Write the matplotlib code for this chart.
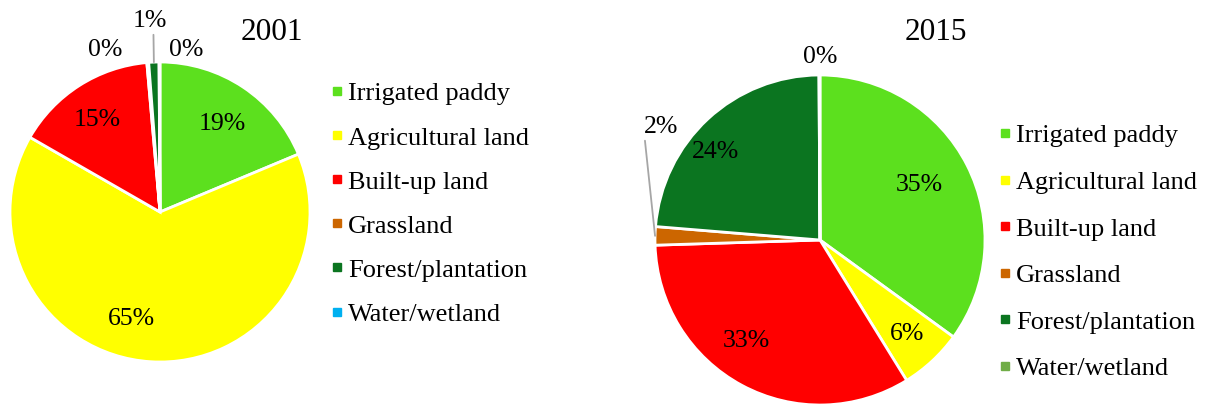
import matplotlib.pyplot as plt
from matplotlib.lines import Line2D
import numpy as np

plt.rcParams['font.family'] = ['Liberation Serif', 'DejaVu Serif']

# land use categories and shares (%)
categories = ['Irrigated paddy', 'Agricultural land', 'Built-up land',
              'Grassland', 'Forest/plantation', 'Water/wetland']
share_2001 = [18.7, 64.6, 15.3, 0.2, 1.1, 0.1]
share_2015 = [35.0, 6.2, 33.3, 1.8, 23.6, 0.1]
colors_2001 = ['#5ce01e', '#ffff00', '#ff0000', '#cc6600', '#0b7520', '#00b0f0']
colors_2015 = ['#5ce01e', '#ffff00', '#ff0000', '#cc6600', '#0b7520', '#70ad47']

W, H = 1210, 404

# label placement: (radius fraction, angle override or None, leader line?)
layout_2001 = [(0.72, 54.5, False), (0.74, -105, False), (0.74, 124.4, False),
               (1.14, 108.8, False), (1.275, 93, True), (1.094, 80.9, False)]
layout_2015 = [(0.69, 29, False), (0.78, None, False), (0.76, -126, False),
               (1.18, 144.5, True), (0.83, 140, False), (1.11, 90, False)]


def draw_pie(ax, values, colors, center, radius, layout, relpos):
    wedges, _ = ax.pie(values, colors=colors, startangle=90, counterclock=False,
                       center=center, radius=radius,
                       wedgeprops=dict(edgecolor='white', linewidth=2))
    cx, cy = center
    for w, v, (rf, ang, leader) in zip(wedges, values, layout):
        mid = (w.theta1 + w.theta2) / 2
        a = np.deg2rad(mid if ang is None else ang)
        pos = (cx + rf * radius * np.cos(a), cy + rf * radius * np.sin(a))
        txt = f'{v:.0f}%'
        if leader:
            m = np.deg2rad(mid)
            edge = (cx + radius * np.cos(m), cy + radius * np.sin(m))
            ax.annotate(txt, xy=edge, xytext=pos, ha='center', va='center',
                        fontsize=18.5,
                        arrowprops=dict(arrowstyle='-', color='#a6a6a6', lw=1.3,
                                        shrinkA=0, shrinkB=0, relpos=relpos))
        else:
            ax.text(pos[0], pos[1], txt, ha='center', va='center', fontsize=18.5)


fig = plt.figure(figsize=(W / 100, H / 100), dpi=100)
ax = fig.add_axes([0, 0, 1, 1])

draw_pie(ax, share_2001, colors_2001, (160, H - 212), 150, layout_2001, (0.6, 0.0))
draw_pie(ax, share_2015, colors_2015, (820, H - 240), 165, layout_2015, (0.0, 0.15))

ax.text(272, H - 32, '2001', ha='center', va='center', fontsize=22.5)
ax.text(936, H - 32, '2015', ha='center', va='center', fontsize=22.5)

handles_2001 = [Line2D([], [], marker='s', ls='', color=c, markersize=5.5) for c in colors_2001]
handles_2015 = [Line2D([], [], marker='s', ls='', color=c, markersize=5.5) for c in colors_2015]

leg1 = ax.legend(handles_2001, categories, loc='upper left', bbox_to_anchor=(332, H - 82),
                 bbox_transform=ax.transData, frameon=False, fontsize=19,
                 handlelength=0.4, handletextpad=0.2, labelspacing=0.78,
                 borderaxespad=0, borderpad=0)
ax.add_artist(leg1)
ax.legend(handles_2015, categories, loc='upper left', bbox_to_anchor=(1000, H - 124),
          bbox_transform=ax.transData, frameon=False, fontsize=19,
          handlelength=0.4, handletextpad=0.2, labelspacing=0.875,
          borderaxespad=0, borderpad=0)

ax.set_xlim(0, W)
ax.set_ylim(0, H)
ax.set_aspect('equal')
ax.axis('off')

plt.savefig('out.png', dpi=100)
plt.close()
